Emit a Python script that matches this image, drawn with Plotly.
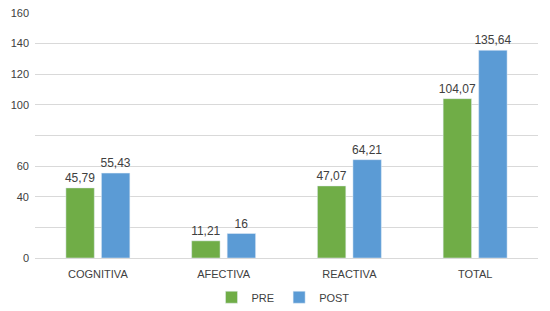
import plotly.graph_objects as go

categories = ["COGNITIVA", "AFECTIVA", "REACTIVA", "TOTAL"]
pre = [45.79, 11.21, 47.07, 104.07]
post = [55.43, 16, 64.21, 135.64]
pre_labels = ["45,79", "11,21", "47,07", "104,07"]
post_labels = ["55,43", "16", "64,21", "135,64"]
tick_vals = [0, 20, 40, 60, 80, 100, 120, 140, 160]
tick_text = ["0", "", "40", "60", "", "100", "120", "140", "160"]

font = "Liberation Sans, Arial, sans-serif"
txt = "#404040"

fig = go.Figure()
fig.add_trace(go.Bar(x=categories, y=pre, name="PRE", marker_color="#70AD47",
                     text=pre_labels, textposition="outside", cliponaxis=False,
                     constraintext="none",
                     textfont=dict(size=12, color=txt, family=font)))
fig.add_trace(go.Bar(x=categories, y=post, name="POST", marker_color="#5B9BD5",
                     text=post_labels, textposition="outside", cliponaxis=False,
                     constraintext="none",
                     textfont=dict(size=12, color=txt, family=font)))

fig.update_layout(
    width=550, height=311,
    margin=dict(l=27, r=20, t=5, b=61, autoexpand=False),
    paper_bgcolor="white", plot_bgcolor="white",
    barmode="group", bargap=0.435, bargroupgap=0.2,
    font=dict(family=font, size=11, color=txt),
    showlegend=True,
    legend=dict(orientation="h", x=0.5, xanchor="center", xref="container",
                y=0.07, yanchor="middle", yref="container",
                font=dict(size=11, color=txt), itemwidth=30, traceorder="normal"),
    xaxis=dict(showline=True, linecolor="#D9D9D9", tickfont=dict(size=11, color=txt),
               ticks="", ticklabelstandoff=6, automargin=False),
    yaxis=dict(range=[0, 160], tickvals=tick_vals, ticktext=tick_text,
               showgrid=True, gridcolor="#D9D9D9", zeroline=False,
               tickfont=dict(size=11, color=txt), ticks="", ticklabelstandoff=5,
               automargin=False, ticklabeloverflow="allow"),
)

fig.write_html("out.html")
